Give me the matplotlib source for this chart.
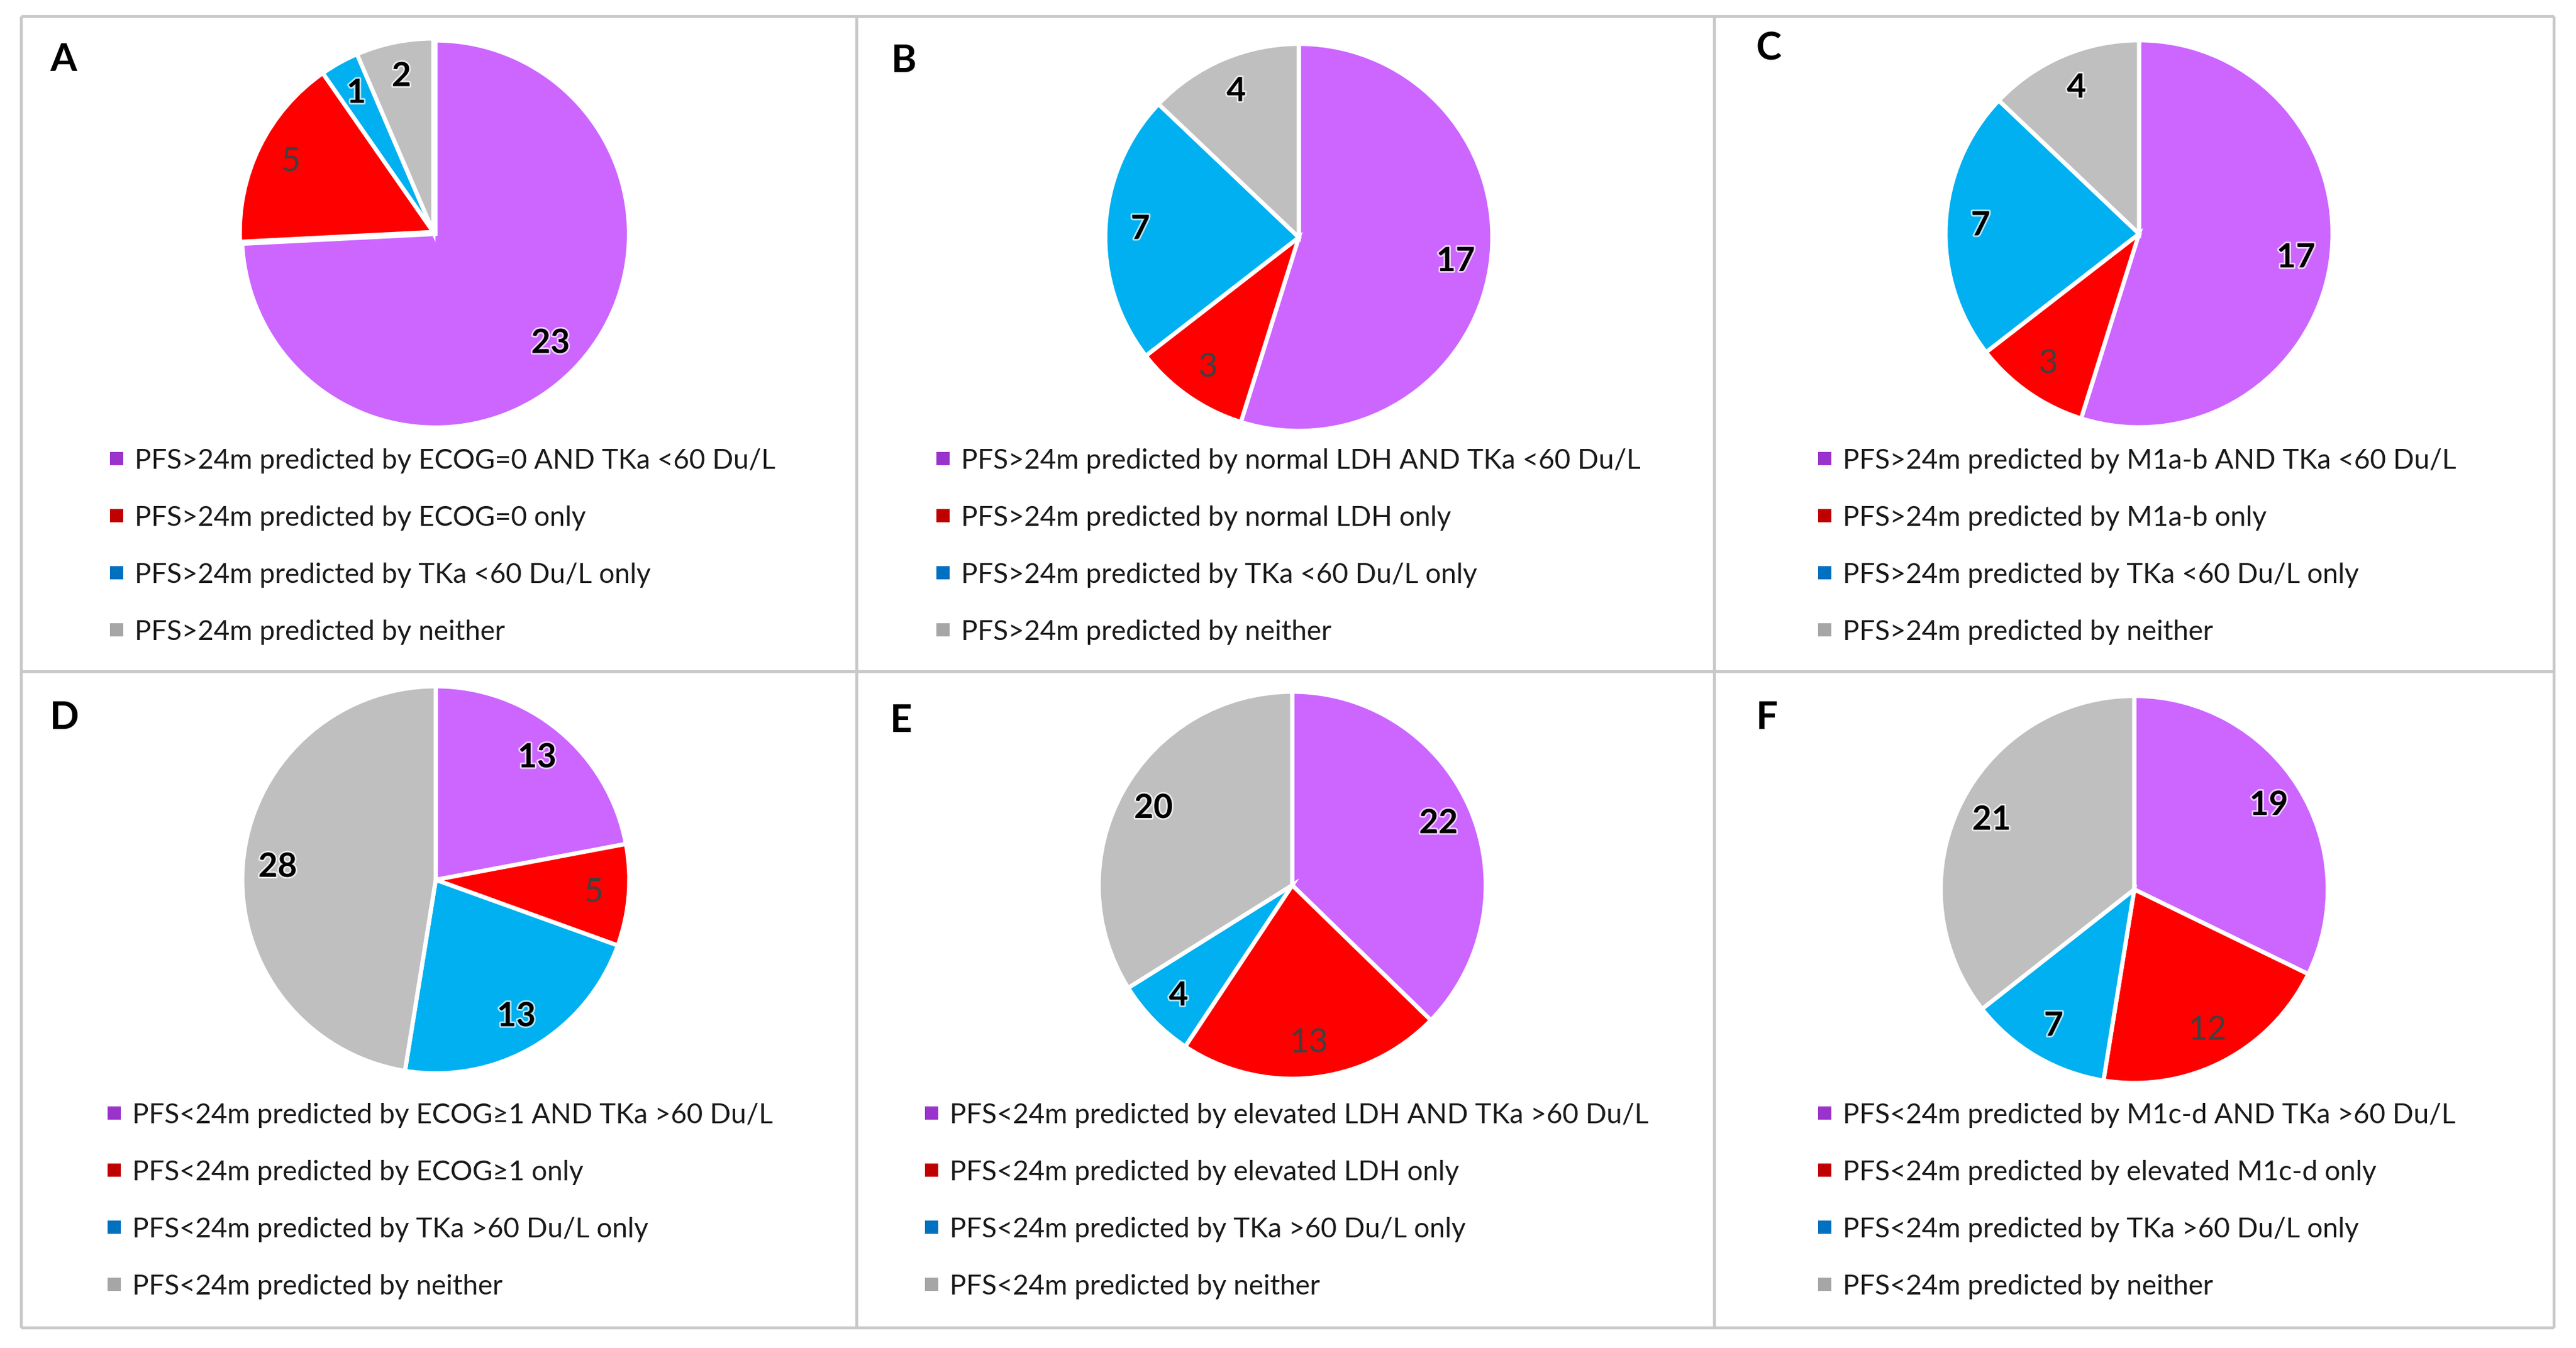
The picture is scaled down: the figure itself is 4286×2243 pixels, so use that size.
import matplotlib
matplotlib.use('Agg')
import matplotlib.pyplot as plt
from matplotlib.patches import Rectangle
import matplotlib.patheffects as pe
import numpy as np

W, H = 4286, 2243
DPI = 100

plt.rcParams['font.family'] = ['Lato', 'DejaVu Sans']

# ---- data ----
panels = ['A', 'B', 'C', 'D', 'E', 'F']
values_A = [23, 5, 1, 2]
values_B = [17, 3, 7, 4]
values_C = [17, 3, 7, 4]
values_D = [13, 5, 13, 28]
values_E = [22, 13, 4, 20]
values_F = [19, 12, 7, 21]

legend_A = ['PFS>24m predicted by ECOG=0 AND TKa <60 Du/L',
            'PFS>24m predicted by ECOG=0 only',
            'PFS>24m predicted by TKa <60 Du/L only',
            'PFS>24m predicted by neither']
legend_B = ['PFS>24m predicted by normal LDH AND TKa <60 Du/L',
            'PFS>24m predicted by normal LDH only',
            'PFS>24m predicted by TKa <60 Du/L only',
            'PFS>24m predicted by neither']
legend_C = ['PFS>24m predicted by M1a-b AND TKa <60 Du/L',
            'PFS>24m predicted by M1a-b only',
            'PFS>24m predicted by TKa <60 Du/L only',
            'PFS>24m predicted by neither']
legend_D = ['PFS<24m predicted by ECOG\u22651 AND TKa >60 Du/L',
            'PFS<24m predicted by ECOG\u22651 only',
            'PFS<24m predicted by TKa >60 Du/L only',
            'PFS<24m predicted by neither']
legend_E = ['PFS<24m predicted by elevated LDH AND TKa >60 Du/L',
            'PFS<24m predicted by elevated LDH only',
            'PFS<24m predicted by TKa >60 Du/L only',
            'PFS<24m predicted by neither']
legend_F = ['PFS<24m predicted by M1c-d AND TKa >60 Du/L',
            'PFS<24m predicted by elevated M1c-d only',
            'PFS<24m predicted by TKa >60 Du/L only',
            'PFS<24m predicted by neither']

all_values = [values_A, values_B, values_C, values_D, values_E, values_F]
all_legends = [legend_A, legend_B, legend_C, legend_D, legend_E, legend_F]

slice_colors = ['#CC66FF', '#FF0000', '#00B0F0', '#BFBFBF']
marker_colors = ['#9A33CC', '#C00000', '#0070C0', '#A6A6A6']
label_colors = ['black', '#404040', 'black', 'black']
label_weights = ['bold', 'normal', 'bold', 'bold']

# ---- layout (pixels) ----
pie_centers = [(721, 386), (2161, 395), (3559, 389),
               (725, 1464), (2150, 1473), (3551, 1480)]
pie_r = 322
letter_pos = [(83, 118), (1483, 120), (2922, 99),
              (83, 1213), (1481, 1218), (2922, 1213)]
legend_x = [194, 1569, 3036, 190, 1550, 3036]
legend_y0 = [763, 763, 763, 1852, 1852, 1852]
row_step = 95
explodes = [[0.015, 0, 0, 0]] + [[0, 0, 0, 0]] * 5

fig = plt.figure(figsize=(W / DPI, H / DPI), dpi=DPI)
bg = fig.add_axes([0, 0, 1, 1])
bg.set_xlim(0, W)
bg.set_ylim(H, 0)
bg.axis('off')

# panel grid
grid_col = '#C8C8C8'
for x in [35, 1425, 2852, 4249]:
    bg.plot([x, x], [27, 2209], color=grid_col, lw=3.4, solid_capstyle='butt')
for y in [27, 1117, 2209]:
    bg.plot([35, 4249], [y, y], color=grid_col, lw=3.4, solid_capstyle='butt')

L = 1.1
glow = [pe.withStroke(linewidth=4, foreground='white', alpha=0.7)]
for i, vals in enumerate(all_values):
    cx, cy = pie_centers[i]
    size = 2 * L * pie_r
    ax = fig.add_axes([(cx - L * pie_r) / W, (H - cy - L * pie_r) / H,
                       size / W, size / H])
    wedges, _ = ax.pie(vals, colors=slice_colors, startangle=90,
                       counterclock=False, explode=explodes[i],
                       wedgeprops=dict(edgecolor='white', linewidth=5))
    ax.set_xlim(-L, L)
    ax.set_ylim(-L, L)
    for j, w in enumerate(wedges):
        mid = np.deg2rad((w.theta1 + w.theta2) / 2)
        ox, oy = w.center
        ax.text(ox + 0.82 * np.cos(mid), oy + 0.82 * np.sin(mid), str(vals[j]),
                ha='center', va='center', fontsize=40,
                color=label_colors[j], fontweight=label_weights[j],
                path_effects=glow if label_weights[j] == 'bold' else None)

    lx, ly = letter_pos[i]
    bg.text(lx, ly, panels[i], fontsize=46, fontweight='bold',
            ha='left', va='baseline')

    for j, lab in enumerate(all_legends[i]):
        yy = legend_y0[i] + j * row_step
        bg.add_patch(Rectangle((legend_x[i] - 11, yy - 11), 22, 22,
                               facecolor=marker_colors[j], edgecolor='none'))
        bg.text(legend_x[i] + 30, yy, lab, fontsize=33, ha='left',
                va='center_baseline', color='#1A1A1A')

fig.savefig('out.png', dpi=DPI, facecolor='white')
